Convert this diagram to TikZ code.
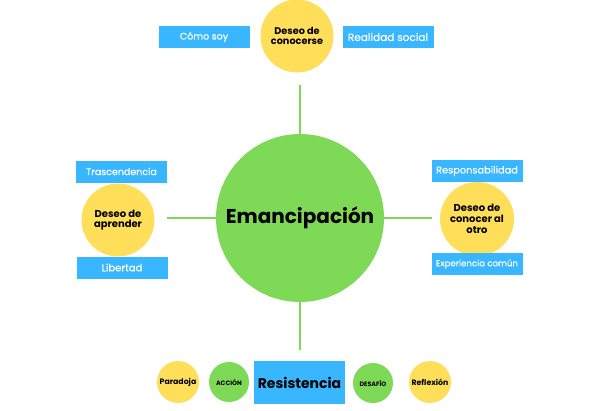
\documentclass[tikz,border=0pt]{standalone}
\usepackage{fontspec}
\setmainfont{Poppins}
\newfontfamily\medfont[FakeBold=0.6]{Poppins}
\definecolor{cblue}{HTML}{38B6FF}
\definecolor{cyellow}{HTML}{FFDE59}
\definecolor{cgreen}{HTML}{7ED957}
\begin{document}
\begin{tikzpicture}[x=1pt,y=-1pt,
  bluebox/.style={fill=cblue,draw=none,text=white,inner sep=0pt,minimum width=91pt,minimum height=22pt,font=\medfont\fontsize{9.5}{11}\selectfont},
  ycirc/.style={circle,fill=cyellow,draw=none,inner sep=0pt,align=center,font=\bfseries\fontsize{9.7}{10.5}\selectfont},
  gcirc/.style={circle,fill=cgreen,draw=none,inner sep=0pt,align=center,font=\bfseries},
  link/.style={draw=cgreen,line width=1.5pt}]
\useasboundingbox (0,0) rectangle (600,410);
% center
\node[gcirc,minimum size=168pt,font=\bfseries\fontsize{20}{22}\selectfont] (em) at (300,218) {Emancipación};
% top
\node[ycirc,minimum size=73pt] (top) at (297,36) {Deseo de\\conocerse};
\node[bluebox] (como) at (204,37) {Cómo soy};
\node[bluebox,font=\medfont\fontsize{10.5}{12}\selectfont] (real) at (388,37) {Realidad social};
% left
\node[ycirc,minimum size=73pt,font=\bfseries\fontsize{10}{10.5}\selectfont] (left) at (118,220) {Deseo de\\aprender};
\node[bluebox] (tras) at (121.5,171.5) {Trascendencia};
\node[bluebox,font=\medfont\fontsize{10}{12}\selectfont] (lib) at (122,267.5) {Libertad};
% right
\node[ycirc,minimum size=74pt,font=\bfseries\fontsize{10}{11}\selectfont] (right) at (477,219) {Deseo de\\conocer al\\otro};
\node[bluebox,font=\medfont\fontsize{9.8}{12}\selectfont] (resp) at (477,171) {Responsabilidad};
\node[bluebox,font=\medfont\fontsize{8.6}{12}\selectfont] (exp) at (477,264) {Experiencia común};
% bottom
\coordinate (bot) at (300,350);
\node[fill=cblue,inner sep=0pt,minimum width=91pt,minimum height=43pt,font=\bfseries\fontsize{14}{15}\selectfont] (res) at (299.5,382.5) {Resistencia};
\node[ycirc,minimum size=42pt,font=\bfseries\fontsize{7.8}{8}\selectfont] (par) at (178,382) {Paradoja};
\node[gcirc,minimum size=40pt,font=\bfseries\fontsize{6.3}{7}\selectfont] (acc) at (229,382) {ACCIÓN};
\node[gcirc,minimum size=40pt,font=\bfseries\fontsize{6.3}{7}\selectfont] (des) at (373,383) {DESAFÍO};
\node[ycirc,minimum size=42pt,font=\bfseries\fontsize{7.8}{8}\selectfont] (ref) at (430,382) {Reflexión};
% links
\coordinate (ttop) at (300,85);
\coordinate (lend) at (167,218);
\coordinate (rend) at (432,218);
\draw[link] (ttop) -- (em.north);
\draw[link] (lend) -- (em.west);
\draw[link] (em.east) -- (rend);
\draw[link] (em.south) -- (bot);
\end{tikzpicture}
\end{document}
